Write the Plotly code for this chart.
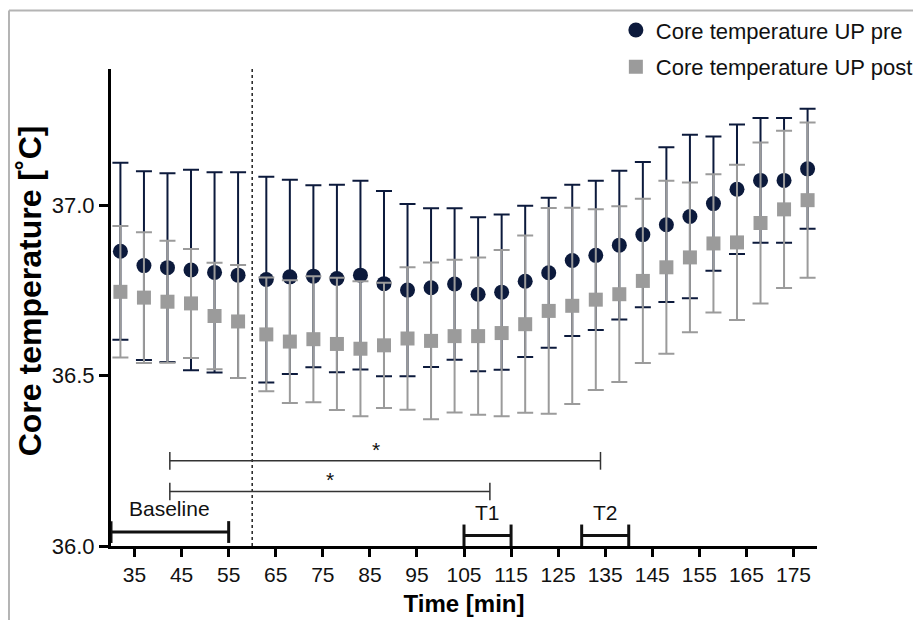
import plotly.graph_objects as go

# ---- data ----
time_min = [32, 37, 42, 47, 52, 57,
            63, 68, 73, 78, 83, 88, 93, 98, 103, 108, 113, 118, 123, 128,
            133, 138, 143, 148, 153, 158, 163, 168, 173, 178]

pre_mean = [36.865, 36.823, 36.817, 36.810, 36.803, 36.795,
            36.782, 36.790, 36.792, 36.785, 36.795, 36.770, 36.751, 36.758,
            36.769, 36.739, 36.745, 36.777, 36.802, 36.838, 36.853, 36.883,
            36.914, 36.943, 36.967, 37.005, 37.047, 37.073, 37.073, 37.107]
pre_sd = [0.260, 0.277, 0.277, 0.294, 0.294, 0.302,
          0.302, 0.285, 0.267, 0.275, 0.277, 0.272, 0.253, 0.233,
          0.222, 0.226, 0.228, 0.222, 0.220, 0.222, 0.219, 0.218,
          0.213, 0.227, 0.240, 0.197, 0.190, 0.183, 0.183, 0.176]

post_mean = [36.746, 36.729, 36.717, 36.712, 36.675, 36.659,
             36.621, 36.600, 36.607, 36.593, 36.579, 36.589, 36.609, 36.602,
             36.616, 36.616, 36.625, 36.651, 36.690, 36.705, 36.723, 36.739,
             36.778, 36.818, 36.847, 36.888, 36.891, 36.948, 36.988, 37.015]
post_sd = [0.193, 0.192, 0.179, 0.160, 0.156, 0.166,
           0.167, 0.180, 0.185, 0.194, 0.198, 0.184, 0.209, 0.230,
           0.224, 0.231, 0.244, 0.260, 0.302, 0.288, 0.265, 0.258,
           0.241, 0.254, 0.220, 0.203, 0.228, 0.236, 0.231, 0.228]

series_names = ["Core temperature UP pre", "Core temperature UP post"]

x_ticks = [35, 45, 55, 65, 75, 85, 95, 105, 115, 125, 135, 145, 155, 165, 175]
y_ticks = [36.0, 36.5, 37.0]
y_tick_labels = ["36.0", "36.5", "37.0"]

intervention_start = 60

# significance brackets
sig_start = [42.5, 42.5]
sig_end = [134, 110.5]
sig_level = [36.25, 36.16]
sig_star_x = [86.3, 76.6]
sig_label = ["*", "*"]

# phase brackets
phase_label = ["Baseline", "T1", "T2"]
phase_start = [30, 105, 130]
phase_end = [55, 115, 140]
phase_level = [36.041, 36.031, 36.031]

NAVY = "#0c1a3c"
GRAY = "#9b9b9b"
FONT = "Liberation Sans, Arial, Helvetica, sans-serif"

fig = go.Figure()

fig.add_trace(go.Scatter(
    x=time_min, y=pre_mean, mode="markers", name=series_names[0],
    marker=dict(symbol="circle", size=15, color=NAVY),
    error_y=dict(type="data", array=pre_sd, visible=True, color=NAVY,
                 thickness=2, width=8),
    legendgroup="a",
))
fig.add_trace(go.Scatter(
    x=time_min, y=post_mean, mode="markers", name=series_names[1],
    marker=dict(symbol="square", size=14, color=GRAY),
    error_y=dict(type="data", array=post_sd, visible=True, color=GRAY,
                 thickness=2, width=8),
    legendgroup="b",
))

shapes = []
# dotted vertical line
shapes.append(dict(type="line", xref="x", yref="paper", x0=intervention_start,
                   x1=intervention_start, y0=0, y1=1,
                   line=dict(color="#222222", width=1.5, dash="dot")))

annotations = []
# significance brackets
for s, e, lv, sx, lab in zip(sig_start, sig_end, sig_level, sig_star_x, sig_label):
    shapes.append(dict(type="line", xref="x", yref="y", x0=s, x1=e, y0=lv, y1=lv,
                       line=dict(color="#333333", width=1.5)))
    for xe in (s, e):
        shapes.append(dict(type="line", xref="x", yref="y", x0=xe, x1=xe,
                           y0=lv - 0.026, y1=lv + 0.026,
                           line=dict(color="#333333", width=1.5)))
    annotations.append(dict(x=sx, y=lv, xref="x", yref="y", text=lab,
                            showarrow=False, yanchor="bottom", yshift=-2,
                            font=dict(family=FONT, size=21, color="#111111")))

# phase brackets
for lab, s, e, lv in zip(phase_label, phase_start, phase_end, phase_level):
    shapes.append(dict(type="line", xref="x", yref="y", x0=s, x1=e, y0=lv, y1=lv,
                       line=dict(color="#111111", width=3)))
    for xe in (s, e):
        shapes.append(dict(type="line", xref="x", yref="y", x0=xe, x1=xe,
                           y0=lv - 0.032, y1=lv + 0.032,
                           line=dict(color="#111111", width=3)))
    annotations.append(dict(x=(s + e) / 2, y=lv + 0.032, xref="x", yref="y",
                            text=lab, showarrow=False, yanchor="bottom",
                            yshift=-1,
                            font=dict(family=FONT, size=21, color="#111111")))

# outer frame (gray lines at top and left of the picture)
shapes.append(dict(type="line", xref="paper", yref="paper", x0=-0.1445, x1=1.2,
                   y0=1.1226, y1=1.1226, line=dict(color="#b4b4b4", width=2)))
shapes.append(dict(type="line", xref="paper", yref="paper", x0=-0.1445, x1=-0.1445,
                   y0=-0.2, y1=1.1226, line=dict(color="#b4b4b4", width=2)))

# y axis title
annotations.append(dict(x=-0.1147, y=0.534, xref="paper", yref="paper",
                        xanchor="center", yanchor="middle",
                        text="<b>Core temperature [˚C]</b>", textangle=-90,
                        showarrow=False,
                        font=dict(family=FONT, size=32, color="#000000")))

fig.update_layout(
    width=921, height=620,
    margin=dict(l=103, r=112, t=61, b=82, autoexpand=False),
    paper_bgcolor="white", plot_bgcolor="white",
    font=dict(family=FONT, color="#000000"),
    shapes=shapes, annotations=annotations,
    showlegend=True,
    legend=dict(x=0.660, y=0.998, xref="container", yref="container",
                xanchor="left", yanchor="top",
                font=dict(family=FONT, size=22, color="#111111"),
                bgcolor="rgba(0,0,0,0)", tracegroupgap=5, itemsizing="trace"),
    xaxis=dict(range=[30, 180], tickmode="array", tickvals=x_ticks,
               showline=True, linecolor="#000000", linewidth=3,
               ticks="outside", ticklen=8, tickwidth=2.5, tickcolor="#000000",
               showgrid=False, zeroline=False,
               tickfont=dict(family=FONT, size=21, color="#111111"),
               title=dict(text="<b>Time [min]</b>", standoff=10,
                          font=dict(family=FONT, size=24, color="#000000"))),
    yaxis=dict(range=[36.0, 37.4], tickmode="array", tickvals=y_ticks,
               ticktext=y_tick_labels,
               showline=True, linecolor="#000000", linewidth=3,
               ticks="outside", ticklen=9, tickwidth=2.5, tickcolor="#000000",
               showgrid=False, zeroline=False,
               tickfont=dict(family=FONT, size=22, color="#111111")),
)

fig.write_html("out.html")
